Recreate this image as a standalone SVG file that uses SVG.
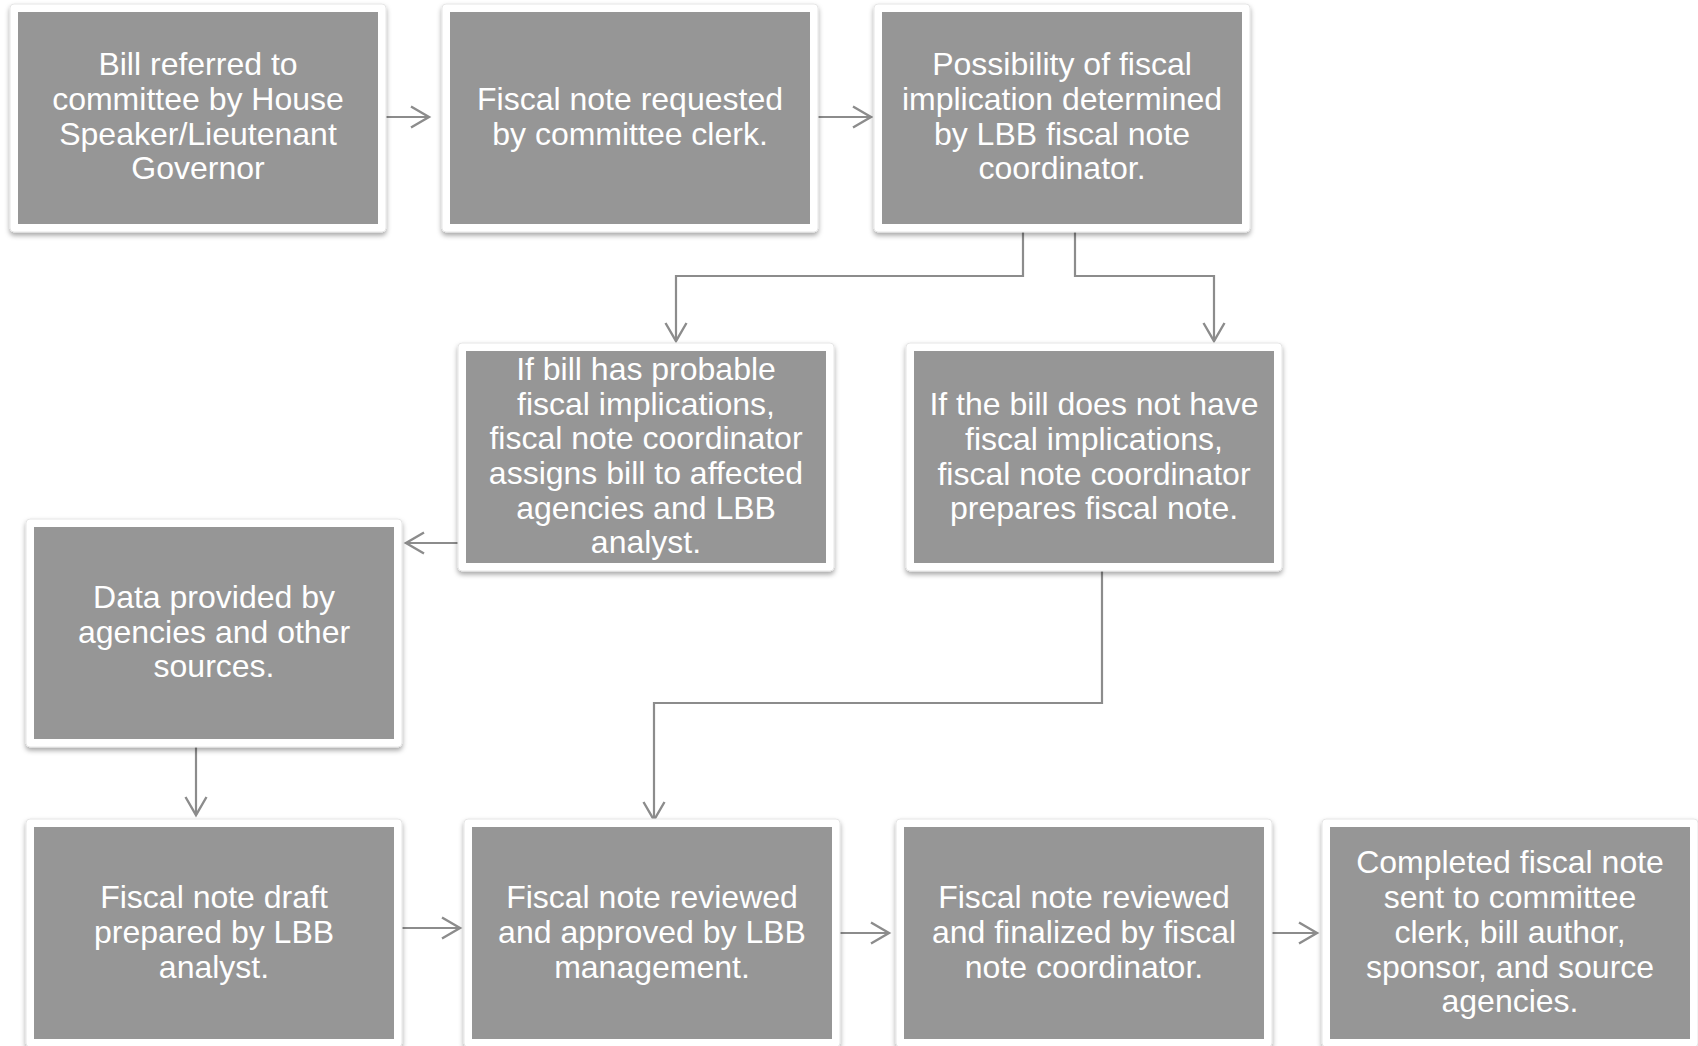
<svg xmlns="http://www.w3.org/2000/svg" width="1698" height="1046" viewBox="0 0 1698 1046">
<style>
.frame{fill:#ffffff;stroke:#e6e6e6;stroke-width:1;filter:url(#sh)}
.box{fill:#969696}
.lbl{font-family:"Liberation Sans",Arial,sans-serif;font-size:32px;fill:#ffffff;text-anchor:middle}
.conn{fill:none;stroke:#8c8c8c;stroke-width:2.2;marker-end:url(#arr)}
</style>
<defs>
<filter id="sh" x="-10%" y="-10%" width="120%" height="125%">
<feDropShadow dx="0" dy="3" stdDeviation="2.5" flood-color="#000000" flood-opacity="0.35"/>
</filter>
<marker id="arr" markerUnits="userSpaceOnUse" viewBox="-22 -13 26 26" markerWidth="26" markerHeight="26" refX="0" refY="0" orient="auto">
<path d="M-18,-10.5 L0,0 L-18,10.5" fill="none" stroke="#8c8c8c" stroke-width="2.4"/>
</marker>
</defs>
<rect width="1698" height="1046" fill="#ffffff"/>
<g id="connectors">
<path class="conn" d="M386,117 H429"/>
<path class="conn" d="M818,117 H871"/>
<path class="conn" d="M1023,232 V276 H676 V341"/>
<path class="conn" d="M1075,232 V276 H1214 V341"/>
<path class="conn" d="M458,543 H406"/>
<path class="conn" d="M1102,571 V703 H654 V820"/>
<path class="conn" d="M196,747 V815"/>
<path class="conn" d="M402,928 H460"/>
<path class="conn" d="M840,933 H889"/>
<path class="conn" d="M1272,933 H1317"/>
</g>
<g id="n1">
<rect class="frame" x="10" y="4" width="376" height="228" rx="4"/>
<rect class="box" x="18" y="12" width="360" height="212"/>
<text class="lbl"><tspan x="198" y="75">Bill referred to</tspan><tspan x="198" y="110">committee by House</tspan><tspan x="198" y="145">Speaker/Lieutenant</tspan><tspan x="198" y="179">Governor</tspan></text>
</g>
<g id="n2">
<rect class="frame" x="442" y="4" width="376" height="228" rx="4"/>
<rect class="box" x="450" y="12" width="360" height="212"/>
<text class="lbl"><tspan x="630" y="110">Fiscal note requested</tspan><tspan x="630" y="145">by committee clerk.</tspan></text>
</g>
<g id="n3">
<rect class="frame" x="874" y="4" width="376" height="228" rx="4"/>
<rect class="box" x="882" y="12" width="360" height="212"/>
<text class="lbl"><tspan x="1062" y="75">Possibility of fiscal</tspan><tspan x="1062" y="110">implication determined</tspan><tspan x="1062" y="145">by LBB fiscal note</tspan><tspan x="1062" y="179">coordinator.</tspan></text>
</g>
<g id="n4">
<rect class="frame" x="458" y="343" width="376" height="228" rx="4"/>
<rect class="box" x="466" y="351" width="360" height="212"/>
<text class="lbl"><tspan x="646" y="380">If bill has probable</tspan><tspan x="646" y="414.5">fiscal implications,</tspan><tspan x="646" y="449">fiscal note coordinator</tspan><tspan x="646" y="484">assigns bill to affected</tspan><tspan x="646" y="518.5">agencies and LBB</tspan><tspan x="646" y="553">analyst.</tspan></text>
</g>
<g id="n5">
<rect class="frame" x="906" y="343" width="376" height="228" rx="4"/>
<rect class="box" x="914" y="351" width="360" height="212"/>
<text class="lbl"><tspan x="1094" y="415">If the bill does not have</tspan><tspan x="1094" y="449.5">fiscal implications,</tspan><tspan x="1094" y="484.5">fiscal note coordinator</tspan><tspan x="1094" y="519">prepares fiscal note.</tspan></text>
</g>
<g id="n6">
<rect class="frame" x="26" y="519" width="376" height="228" rx="4"/>
<rect class="box" x="34" y="527" width="360" height="212"/>
<text class="lbl"><tspan x="214" y="608">Data provided by</tspan><tspan x="214" y="643">agencies and other</tspan><tspan x="214" y="677">sources.</tspan></text>
</g>
<g id="n7">
<rect class="frame" x="26" y="819" width="376" height="228" rx="4"/>
<rect class="box" x="34" y="827" width="360" height="212"/>
<text class="lbl"><tspan x="214" y="908">Fiscal note draft</tspan><tspan x="214" y="943">prepared by LBB</tspan><tspan x="214" y="978">analyst.</tspan></text>
</g>
<g id="n8">
<rect class="frame" x="464" y="819" width="376" height="228" rx="4"/>
<rect class="box" x="472" y="827" width="360" height="212"/>
<text class="lbl"><tspan x="652" y="908">Fiscal note reviewed</tspan><tspan x="652" y="943">and approved by LBB</tspan><tspan x="652" y="978">management.</tspan></text>
</g>
<g id="n9">
<rect class="frame" x="896" y="819" width="376" height="228" rx="4"/>
<rect class="box" x="904" y="827" width="360" height="212"/>
<text class="lbl"><tspan x="1084" y="908">Fiscal note reviewed</tspan><tspan x="1084" y="943">and finalized by fiscal</tspan><tspan x="1084" y="978">note coordinator.</tspan></text>
</g>
<g id="n10">
<rect class="frame" x="1322" y="819" width="376" height="228" rx="4"/>
<rect class="box" x="1330" y="827" width="360" height="212"/>
<text class="lbl"><tspan x="1510" y="873">Completed fiscal note</tspan><tspan x="1510" y="908">sent to committee</tspan><tspan x="1510" y="943">clerk, bill author,</tspan><tspan x="1510" y="978">sponsor, and source</tspan><tspan x="1510" y="1012">agencies.</tspan></text>
</g>
</svg>
